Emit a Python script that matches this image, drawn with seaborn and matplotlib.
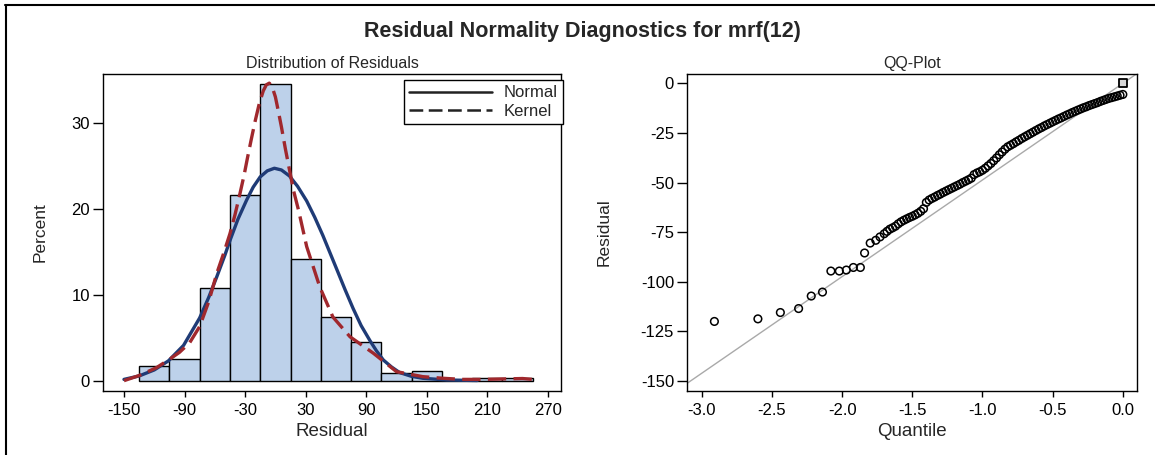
import matplotlib
matplotlib.use("Agg")
import matplotlib.pyplot as plt
from matplotlib.lines import Line2D
import seaborn as sns

# ---------------- data ----------------
bin_edges = [-135, -105, -75, -45, -15, 15, 45, 75, 105, 135, 165, 195, 225, 255]
bin_centers = [-120, -90, -60, -30, 0, 30, 60, 90, 120, 150, 210, 240]
bin_percent = [1.74, 2.49, 10.8, 21.6, 34.5, 14.1, 7.44, 4.5, 0.86, 1.13, 0.29, 0.29]

normal_x = [-150, -135, -120, -106, -91, -75, -66, -58, -50, -45, -37, -28.5,
            -22, -15, -8, -1, 6, 14, 22, 31, 39, 47, 54, 61, 69, 77, 85, 94,
            100, 107, 115, 123, 135, 146, 170, 200]
normal_y = [0.15, 0.55, 1.25, 2.3, 4.1, 7.3, 9.7, 12.1, 14.6, 16.3, 18.8, 21.0,
            22.5, 23.7, 24.4, 24.7, 24.5, 23.8, 22.6, 20.9, 19.0, 16.9, 14.9,
            12.9, 10.6, 8.4, 6.4, 4.6, 3.5, 2.4, 1.6, 0.95, 0.5, 0.28, 0.08, 0.02]

kernel_x = [-150, -135, -118, -106, -95, -85, -75, -66, -58, -51, -45, -40,
            -35, -31, -28, -24, -20, -16, -12, -9, -6, -3, 0, 3, 6, 10, 14,
            18, 23, 31, 44, 57, 74, 97, 120, 146, 166, 185, 205, 225, 245, 260]
kernel_y = [0.0, 0.6, 1.5, 2.4, 3.3, 4.4, 6.3, 9.2, 12.5, 14.9, 17.1, 19.3,
            21.8, 23.9, 25.7, 28.0, 30.2, 32.2, 33.7, 34.4, 34.6, 34.1, 33.0,
            31.3, 29.5, 26.9, 24.5, 22.1, 19.8, 15.6, 10.9, 7.4, 5.1, 3.2,
            1.05, 0.47, 0.28, 0.15, 0.15, 0.2, 0.25, 0.1]

qq_quantile = [-2.91, -2.60, -2.44, -2.31, -2.22, -2.14, -2.08, -2.02, -1.97,
               -1.92, -1.87, -1.84, -1.80, -1.76, -1.73, -1.70,
               -1.68, -1.66, -1.64, -1.62, -1.60, -1.58, -1.56, -1.54, -1.52,
               -1.50, -1.48, -1.46, -1.44, -1.42, -1.40, -1.38, -1.36, -1.34,
               -1.32, -1.30, -1.28, -1.26, -1.24, -1.22, -1.20, -1.18, -1.16,
               -1.14, -1.12, -1.10, -1.08, -1.06, -1.04, -1.02, -1.00, -0.98,
               -0.96, -0.94, -0.92, -0.90, -0.88, -0.86, -0.84, -0.82, -0.80,
               -0.78, -0.76, -0.74, -0.72, -0.70, -0.68, -0.66, -0.64, -0.62,
               -0.60, -0.58, -0.56, -0.54, -0.52, -0.50, -0.48, -0.46, -0.44,
               -0.42, -0.40, -0.38, -0.36, -0.34, -0.32, -0.30, -0.28, -0.26,
               -0.24, -0.22, -0.20, -0.18, -0.16, -0.14, -0.12, -0.10, -0.08,
               -0.06, -0.04, -0.02, 0.00]
qq_residual = [-120.0, -118.7, -115.5, -113.5, -107.2, -105.2, -94.6, -94.6, -94.1,
               -92.8, -92.8, -85.5, -80.5, -79.1, -77.4, -75.8,
               -74.6, -73.5, -72.8, -72.0, -70.8, -69.8, -69.0, -68.3, -67.6,
               -67.0, -66.3, -65.5, -64.5, -63.2, -60.0, -58.8, -58.0, -57.3,
               -56.5, -55.8, -55.0, -54.3, -53.6, -52.9, -52.2, -51.5, -50.8,
               -50.0, -49.3, -48.6, -47.8, -46.0, -45.2, -44.6, -43.8, -42.8,
               -41.6, -40.4, -39.0, -37.6, -36.0, -34.6, -33.2, -32.0, -31.2,
               -30.4, -29.5, -28.7, -27.8, -27.0, -26.2, -25.4, -24.6, -23.8,
               -23.0, -22.3, -21.5, -20.8, -20.1, -19.4, -18.7, -18.0, -17.4,
               -16.7, -16.0, -15.4, -14.7, -14.1, -13.5, -12.9, -12.3, -11.8,
               -11.2, -10.7, -10.2, -9.7, -9.1, -8.6, -8.1, -7.6, -7.2,
               -6.8, -6.4, -6.0, -5.6]
qq_top_quantile = [0.0]
qq_top_residual = [0.0]
ref_intercept = 0.0
ref_slope = 48.7

hist_xticks = [-150, -90, -30, 30, 90, 150, 210, 270]
hist_yticks = [0, 10, 20, 30]
qq_xticks = [-3.0, -2.5, -2.0, -1.5, -1.0, -0.5, 0.0]
qq_yticks = [0, -25, -50, -75, -100, -125, -150]

# ---------------- style ----------------
sns.set_theme(style="ticks")
plt.rcParams['font.family'] = ['Liberation Sans', 'DejaVu Sans']
plt.rcParams['axes.unicode_minus'] = False

W, H = 1155, 455
fig = plt.figure(figsize=(W / 100, H / 100), dpi=100)
fig.patch.set_facecolor('white')

ax1 = fig.add_axes([103.3 / W, 1 - 391 / H, 457.7 / W, 317 / H])
ax2 = fig.add_axes([687.3 / W, 1 - 390.7 / H, 450 / W, 316.7 / H])

BAR = '#BDD1EA'
NAVY = '#1F3B76'
DRED = '#A0282D'
TICK_FS = 12

# ---------------- histogram panel ----------------
sns.histplot(x=bin_centers, weights=bin_percent, bins=bin_edges, stat='count',
             color=BAR, edgecolor='black', linewidth=1.0, alpha=1.0, ax=ax1)
sns.lineplot(x=normal_x, y=normal_y, color=NAVY, linewidth=2.4, sort=False,
             ax=ax1)
sns.lineplot(x=kernel_x, y=kernel_y, color=DRED, linewidth=2.4, sort=False,
             linestyle=(0, (5.5, 2.2)), ax=ax1)

ax1.set_xlim(-170.5, 283)
ax1.set_ylim(-1.2, 35.66)
ax1.set_xticks(hist_xticks)
ax1.set_xticklabels([str(v) for v in hist_xticks])
ax1.set_yticks(hist_yticks)
ax1.set_yticklabels([str(v) for v in hist_yticks])

handles = [Line2D([], [], color='#222222', lw=1.8),
           Line2D([], [], color='#222222', lw=1.8, linestyle=(0, (5.5, 2.2)))]
leg = ax1.legend(handles, ['Normal', 'Kernel'], loc='upper right',
                 bbox_to_anchor=(1.004, 0.98), frameon=True, fancybox=False,
                 edgecolor='black', framealpha=1, handlelength=5.0,
                 handletextpad=0.7, borderpad=0.3, labelspacing=0.2,
                 fontsize=12, borderaxespad=0)
leg.get_frame().set_linewidth(1.0)

# ---------------- QQ panel ----------------
ax2.axline((0, ref_intercept), slope=ref_slope, color='#a9a9a9', lw=1.0,
           zorder=1)
sns.scatterplot(x=qq_quantile, y=qq_residual, marker='o', s=30,
                facecolor='none', edgecolor='black', linewidth=1.1, ax=ax2,
                zorder=3)
sns.scatterplot(x=qq_top_quantile, y=qq_top_residual, marker='s', s=30,
                facecolor='#d8d8d8', edgecolor='black', linewidth=1.3, ax=ax2,
                zorder=4)
ax2.set_xlim(-3.103, 0.103)
ax2.set_ylim(-154.9, 4.7)
ax2.set_xticks(qq_xticks)
ax2.set_xticklabels([f"{v:.1f}" for v in qq_xticks])
ax2.set_yticks(qq_yticks)
ax2.set_yticklabels([str(v) for v in qq_yticks])

# ---------------- common axes styling ----------------
for ax in (ax1, ax2):
    ax.set_facecolor('white')
    ax.grid(False)
    for sp in ax.spines.values():
        sp.set_visible(True)
        sp.set_color('black')
        sp.set_linewidth(1.0)
    ax.tick_params(axis='x', direction='out', length=4.5, width=1.0, pad=4,
                   labelsize=TICK_FS, colors='black')
    ax.tick_params(axis='y', direction='out', length=7.5, width=1.0, pad=2,
                   labelsize=TICK_FS, colors='black')

ax1.set_xlabel('Residual', fontsize=13.5, va='center')
ax1.xaxis.set_label_coords(0.5, (391 - 432) / 317)
ax1.set_ylabel('Percent', fontsize=12.5, va='center')
ax1.yaxis.set_label_coords((40 - 103.3) / 457.7, 0.5)

ax2.set_xlabel('Quantile', fontsize=13.5, va='center')
ax2.xaxis.set_label_coords(0.5, (390.7 - 432) / 316.7)
ax2.set_ylabel('Residual', fontsize=12.5, va='center')
ax2.yaxis.set_label_coords((604 - 687.3) / 450, 0.5)

ax1.text(0.5, 1 + (74 - 63) / 317, 'Distribution of Residuals',
         transform=ax1.transAxes, ha='center', va='center', fontsize=11.5)
ax2.text(0.5, 1 + (74 - 63) / 316.7, 'QQ-Plot',
         transform=ax2.transAxes, ha='center', va='center', fontsize=11.5)

fig.text(582 / W, 1 - 32 / H, 'Residual Normality Diagnostics for mrf(12)',
         ha='center', va='center', fontsize=15.5, fontweight='bold')

# outer frame lines (top and left)
fig.add_artist(Line2D([5 / W, 1.0], [1 - 5 / H, 1 - 5 / H],
                      transform=fig.transFigure, color='black', lw=1.5))
fig.add_artist(Line2D([5.5 / W, 5.5 / W], [0.0, 1 - 5 / H],
                      transform=fig.transFigure, color='black', lw=1.5))

fig.savefig('out.png', dpi=100, facecolor='white')
